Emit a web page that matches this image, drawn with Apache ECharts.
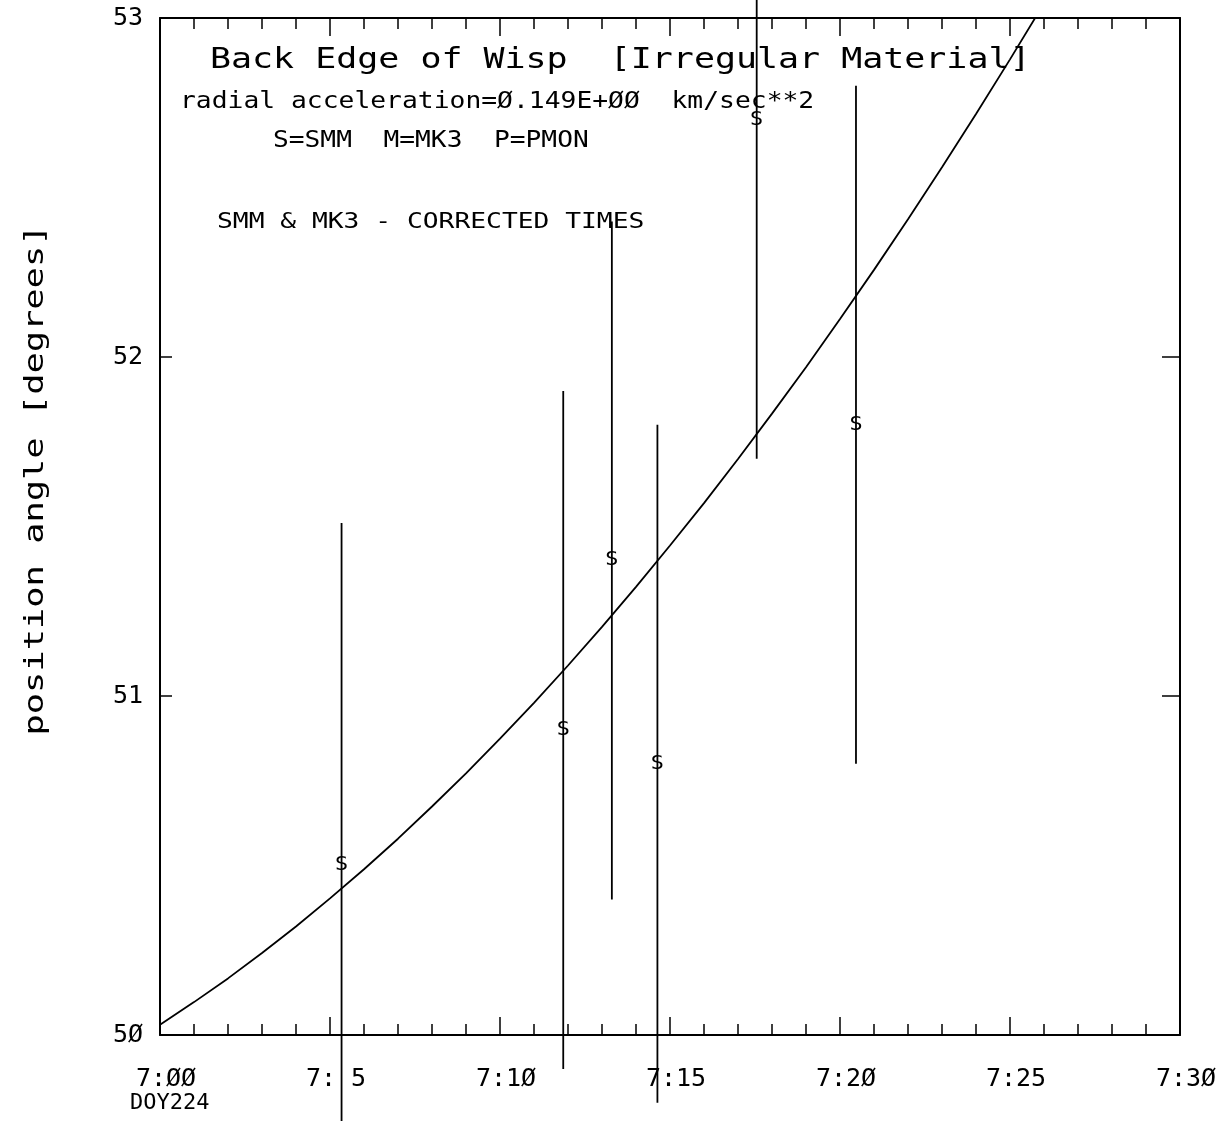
<!DOCTYPE html>
<html>
<head>
<meta charset="utf-8">
<script src="https://cdn.jsdelivr.net/npm/echarts@6/dist/echarts.min.js"></script>
<style>html,body{margin:0;padding:0;background:#fff}#c{width:1230px;height:1121px}</style>
</head>
<body>
<div id="c"></div>
<script>
// ---- data ----
// fitted curve: minutes after 7:00 vs position angle
const curveMinutes = [0,1,2,3,4,5,6,7,8,9,10,11,12,13,14,15,16,17,18,19,20,21,22,23,24,25,26];
const curveAngle = [50.030,50.097,50.167,50.242,50.320,50.403,50.489,50.579,50.674,50.772,50.874,50.980,51.090,51.204,51.322,51.444,51.569,51.699,51.833,51.970,52.112,52.257,52.406,52.560,52.717,52.878,53.043];
// SMM observations
const obsMinutes = [5.34, 11.86, 13.29, 14.63, 17.55, 20.47];
const obsAngle   = [50.50, 50.90, 51.40, 50.80, 52.70, 51.80];
const obsLow     = [49.50, 49.90, 50.40, 49.80, 51.70, 50.80];
const obsHigh    = [51.51, 51.90, 52.40, 51.80, 53.70, 52.80];
const obsSymbol  = ['S','S','S','S','S','S'];
// tick labels
const xTickLabels = ['7:ØØ','7: 5','7:1Ø','7:15','7:2Ø','7:25','7:3Ø'];
const yTickLabels = ['5Ø','51','52','53'];

const FONT = '"DejaVu Sans Mono", "Liberation Mono", monospace';
const chart = echarts.init(document.getElementById('c'), null, {renderer:'canvas'});

const curveData = curveMinutes.map((m,i)=>[m, curveAngle[i]]);
const obsData = obsMinutes.map((m,i)=>[m, obsAngle[i], obsLow[i], obsHigh[i]]);

const axisLine = {show:true, onZero:false, lineStyle:{color:'#000', width:2}};
function textEl(str, x, y, size, sx, extra){
  return Object.assign({type:'text', x:x, y:y, scaleX:sx, scaleY:1, silent:true,
    style:{text:str, font: size+'px '+FONT, fill:'#000', textAlign:'left', textVerticalAlign:'middle'}}, extra||{});
}

chart.setOption({
  backgroundColor:'#fff',
  animation:false,
  grid:{left:160, right:50, top:18, bottom:86, containLabel:false},
  xAxis:[
    {type:'value', min:0, max:30, interval:5, position:'bottom',
     axisLine:axisLine,
     axisTick:{show:true, inside:true, length:18, lineStyle:{color:'#000', width:1.5}},
     minorTick:{show:true, splitNumber:5, length:11, lineStyle:{color:'#000', width:1.5}},
     axisLabel:{show:true, margin:32, color:'#000', fontFamily:FONT, fontSize:25, padding:[0,0,0,12],
       showMinLabel:true, showMaxLabel:true,
       formatter:(v)=>xTickLabels[Math.round(v/5)]},
     splitLine:{show:false}, minorSplitLine:{show:false}},
    {type:'value', min:0, max:30, interval:5, position:'top',
     axisLine:axisLine,
     axisTick:{show:true, inside:true, length:18, lineStyle:{color:'#000', width:1.5}},
     minorTick:{show:true, splitNumber:5, length:11, lineStyle:{color:'#000', width:1.5}},
     axisLabel:{show:false}, splitLine:{show:false}}
  ],
  yAxis:[
    {type:'value', min:50, max:53, interval:1, position:'left',
     axisLine:axisLine,
     axisTick:{show:true, inside:true, length:12, lineStyle:{color:'#000', width:1.5}},
     axisLabel:{show:true, margin:17, color:'#000', fontFamily:FONT, fontSize:25,
       formatter:(v)=>yTickLabels[Math.round(v-50)]},
     splitLine:{show:false}},
    {type:'value', min:50, max:53, interval:1, position:'right',
     axisLine:axisLine,
     axisTick:{show:true, inside:true, length:18, lineStyle:{color:'#000', width:1.5}},
     axisLabel:{show:false}, splitLine:{show:false}}
  ],
  series:[
    {type:'line', xAxisIndex:0, yAxisIndex:0, data:curveData, showSymbol:false, symbol:'none',
     smooth:false, clip:true, lineStyle:{color:'#000', width:1.8}, z:3},
    {type:'custom', xAxisIndex:0, yAxisIndex:0, data:obsData, clip:false, z:4,
     renderItem:function(params, api){
       const x = api.value(0);
       const p0 = api.coord([x, api.value(2)]);
       const p1 = api.coord([x, api.value(3)]);
       const pc = api.coord([x, api.value(1)]);
       return {type:'group', children:[
         {type:'line', shape:{x1:p0[0], y1:p0[1], x2:p1[0], y2:p1[1]},
          style:{stroke:'#000', lineWidth:1.8}},
         {type:'text', x:pc[0], y:pc[1], scaleX:1.15,
          style:{text:obsSymbol[params.dataIndex], font:'19px '+FONT, fill:'#000',
                 textAlign:'center', textVerticalAlign:'middle'}}
       ]};
     }}
  ],
  graphic:[
    textEl('Back Edge of Wisp  [Irregular Material]', 210, 60, 29, 1.205),
    textEl('radial acceleration=Ø.149E+ØØ  km/sec**2', 180, 102, 23, 1.145),
    textEl('S=SMM  M=MK3  P=PMON', 273, 141, 23, 1.14),
    textEl('SMM & MK3 - CORRECTED TIMES', 217, 222, 22, 1.195),
    textEl('DOY224', 130, 1103, 22, 1.0),
    {type:'text', x:36, y:480, rotation:Math.PI/2, scaleX:1.36, scaleY:1, silent:true,
     style:{text:'position angle [degrees]', font:'26px '+FONT, fill:'#000', textAlign:'center', textVerticalAlign:'middle'}}
  ]
});
</script>
</body>
</html>
